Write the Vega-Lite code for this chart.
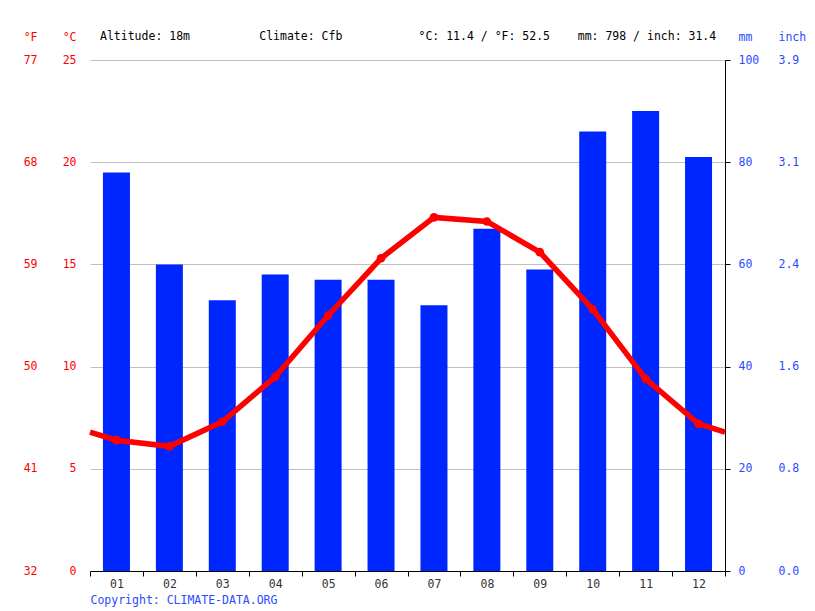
{
  "$schema": "https://vega.github.io/schema/vega-lite/v6.json",
  "width": 635,
  "height": 511,
  "autosize": "none",
  "padding": {"left": 90, "top": 60, "right": 90, "bottom": 40},
  "background": "white",
  "config": {"view": {"stroke": null}, "font": "DejaVu Sans Mono"},
  "title": {
    "text": "Altitude: 18m\u00a0\u00a0\u00a0\u00a0\u00a0\u00a0\u00a0\u00a0\u00a0\u00a0Climate: Cfb\u00a0\u00a0\u00a0\u00a0\u00a0\u00a0\u00a0\u00a0\u00a0\u00a0\u00a0°C: 11.4 / °F: 52.5\u00a0\u00a0\u00a0\u00a0mm: 798 / inch: 31.4",
    "anchor": "start",
    "frame": "group",
    "dx": 10,
    "dy": 40,
    "font": "DejaVu Sans Mono",
    "fontSize": 11.5,
    "fontWeight": "normal",
    "color": "#000000",
    "baseline": "alphabetic",
    "offset": 20
  },
  "datasets": {
    "climate": [
      {"month": 0.5, "temp": 6.8},
      {"month": 1, "temp": 6.4, "precip": 78},
      {"month": 2, "temp": 6.1, "precip": 60},
      {"month": 3, "temp": 7.3, "precip": 53},
      {"month": 4, "temp": 9.5, "precip": 58},
      {"month": 5, "temp": 12.5, "precip": 57},
      {"month": 6, "temp": 15.3, "precip": 57},
      {"month": 7, "temp": 17.3, "precip": 52},
      {"month": 8, "temp": 17.1, "precip": 67},
      {"month": 9, "temp": 15.6, "precip": 59},
      {"month": 10, "temp": 12.8, "precip": 86},
      {"month": 11, "temp": 9.4, "precip": 90},
      {"month": 12, "temp": 7.2, "precip": 81},
      {"month": 12.5, "temp": 6.8}
    ]
  },
  "data": {"name": "climate"},
  "encoding": {
    "x": {
      "field": "month",
      "type": "quantitative",
      "scale": {"domain": [0.5, 12.5], "nice": false, "zero": false, "padding": 0},
      "axis": {
        "values": [0.5, 1, 1.5, 2, 2.5, 3, 3.5, 4, 4.5, 5, 5.5, 6, 6.5, 7, 7.5, 8, 8.5, 9, 9.5, 10, 10.5, 11, 11.5, 12, 12.5],
        "labelExpr": "datum.value % 1 === 0 ? (datum.value < 10 ? '0' : '') + datum.value : ''",
        "tickOpacity": {"condition": {"test": "datum.value % 1 === 0", "value": 0}, "value": 1},
        "tickColor": "#000000",
        "tickSize": 5,
        "domainColor": "#000000",
        "grid": false,
        "labelFont": "DejaVu Sans Mono",
        "labelFontSize": 11.5,
        "labelColor": "#333333",
        "labelPadding": 2,
        "labelFlush": false,
        "labelOverlap": false,
        "zindex": 1,
        "title": "Copyright: CLIMATE-DATA.ORG",
        "titleFont": "DejaVu Sans Mono",
        "titleFontSize": 11.5,
        "titleFontWeight": "normal",
        "titleColor": "#2a4bff",
        "titleAnchor": "start",
        "titleAlign": "left",
        "titleX": 0,
        "titleY": 29,
        "titleBaseline": "middle"
      }
    }
  },
  "layer": [
    {
      "transform": [{"filter": "isValid(datum.precip)"}],
      "mark": {"type": "bar", "size": 27, "color": "#0026ff"},
      "encoding": {
        "y": {
          "field": "precip",
          "type": "quantitative",
          "scale": {"domain": [0, 100], "nice": false},
          "axis": {
            "orient": "right",
            "values": [0, 20, 40, 60, 80, 100],
            "grid": false,
            "domainColor": "#000000",
            "tickColor": "#000000",
            "tickSize": 5,
            "labelFont": "DejaVu Sans Mono",
            "labelFontSize": 11.5,
            "labelColor": "#2a4bff",
            "labelPadding": 8,
            "title": "mm",
            "titleFont": "DejaVu Sans Mono",
            "titleFontSize": 11.5,
            "titleFontWeight": "normal",
            "titleColor": "#2a4bff",
            "titleAngle": 0,
            "titleAlign": "left",
            "titleBaseline": "alphabetic",
            "titleX": 13,
            "titleY": -20
          }
        }
      }
    },
    {
      "encoding": {
        "y": {
          "field": "temp",
          "type": "quantitative",
          "scale": {"domain": [0, 25], "nice": false},
          "axis": {
            "orient": "left",
            "values": [0, 5, 10, 15, 20, 25],
            "grid": true,
            "gridColor": "#c0c0c0",
            "domain": false,
            "ticks": false,
            "labelFont": "DejaVu Sans Mono",
            "labelFontSize": 11.5,
            "labelColor": "#ff0000",
            "labelPadding": 14,
            "title": "°C",
            "titleFont": "DejaVu Sans Mono",
            "titleFontSize": 11.5,
            "titleFontWeight": "normal",
            "titleColor": "#ff0000",
            "titleAngle": 0,
            "titleAlign": "right",
            "titleBaseline": "alphabetic",
            "titleX": -14,
            "titleY": -20
          }
        }
      },
      "layer": [
        {
          "mark": {"type": "line", "color": "#ff0000", "strokeWidth": 5.5}
        },
        {
          "transform": [{"filter": "isValid(datum.precip)"}],
          "mark": {"type": "point", "filled": true, "color": "#ff0000", "size": 75, "opacity": 1}
        }
      ]
    },
    {
      "transform": [{"filter": "isValid(datum.precip)"}],
      "mark": {"type": "point", "opacity": 0},
      "encoding": {
        "y": {
          "field": "temp",
          "type": "quantitative",
          "scale": {"domain": [0, 25], "nice": false},
          "axis": {
            "orient": "left",
            "values": [0, 5, 10, 15, 20, 25],
            "labelExpr": "round(datum.value * 9 / 5 + 32)",
            "grid": false,
            "domain": false,
            "ticks": false,
            "labelFont": "DejaVu Sans Mono",
            "labelFontSize": 11.5,
            "labelColor": "#ff0000",
            "labelPadding": 53,
            "title": "°F",
            "titleFont": "DejaVu Sans Mono",
            "titleFontSize": 11.5,
            "titleFontWeight": "normal",
            "titleColor": "#ff0000",
            "titleAngle": 0,
            "titleAlign": "right",
            "titleBaseline": "alphabetic",
            "titleX": -53,
            "titleY": -20
          }
        }
      }
    },
    {
      "transform": [{"filter": "isValid(datum.precip)"}],
      "mark": {"type": "point", "opacity": 0},
      "encoding": {
        "y": {
          "field": "precip",
          "type": "quantitative",
          "scale": {"domain": [0, 100], "nice": false},
          "axis": {
            "orient": "right",
            "values": [0, 20, 40, 60, 80, 100],
            "labelExpr": "format(datum.value / 25.4, '.1f')",
            "grid": false,
            "domain": false,
            "ticks": false,
            "labelFont": "DejaVu Sans Mono",
            "labelFontSize": 11.5,
            "labelColor": "#2a4bff",
            "labelPadding": 53,
            "title": "inch",
            "titleFont": "DejaVu Sans Mono",
            "titleFontSize": 11.5,
            "titleFontWeight": "normal",
            "titleColor": "#2a4bff",
            "titleAngle": 0,
            "titleAlign": "left",
            "titleBaseline": "alphabetic",
            "titleX": 53,
            "titleY": -20
          }
        }
      }
    }
  ],
  "resolve": {"scale": {"y": "independent"}}
}
